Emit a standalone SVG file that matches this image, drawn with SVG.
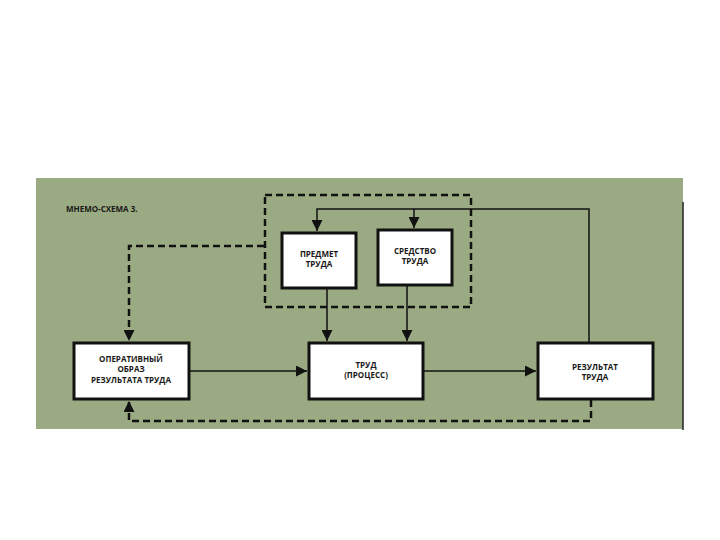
<svg xmlns="http://www.w3.org/2000/svg" width="720" height="540" viewBox="0 0 720 540">
<defs>
<style>
.box{fill:#ffffff;stroke:#111;stroke-width:3}
.lbl{font-family:"Open Sans","DejaVu Sans",sans-serif;font-size:8px;font-weight:bold;fill:#1a1a1a;text-anchor:middle}
.ln{fill:none;stroke:#111;stroke-width:1.5}
.dash{fill:none;stroke:#111;stroke-width:2.5;stroke-dasharray:7 4}
</style>
<marker id="ah" viewBox="0 0 10 10" refX="10" refY="5" markerWidth="6" markerHeight="6" markerUnits="userSpaceOnUse" orient="auto">
<path d="M0,0 L10,5 L0,10 z" fill="#111"/>
</marker>
<marker id="ahb" viewBox="0 0 10 10" refX="10" refY="5" markerWidth="11" markerHeight="11" markerUnits="userSpaceOnUse" orient="auto">
<path d="M0,0 L10,5 L0,10 z" fill="#111"/>
</marker>
</defs>
<rect x="0" y="0" width="720" height="540" fill="#ffffff"/>
<rect x="36" y="178" width="647" height="251" fill="#9aab83"/>
<line x1="683" y1="202" x2="683" y2="430" stroke="#222" stroke-width="1.5"/>
<text x="66" y="212" font-family="'Open Sans','DejaVu Sans',sans-serif" font-size="8" font-weight="bold" fill="#1a1a1a">МНЕМО-СХЕМА 3.</text>
<g id="connectors">
<rect x="265" y="195" width="206" height="112" class="dash"/>
<polyline points="264,246 129,246 129,341" class="dash" marker-end="url(#ahb)"/>
<polyline points="591,400 591,421 129,421 129,401" class="dash" marker-end="url(#ahb)"/>
<polyline points="589,343 589,209 317,209 317,231" class="ln" marker-end="url(#ahb)"/>
<line x1="414" y1="209" x2="414" y2="228" class="ln" marker-end="url(#ahb)"/>
<line x1="327" y1="289" x2="327" y2="341" class="ln" marker-end="url(#ahb)"/>
<line x1="407" y1="286" x2="407" y2="341" class="ln" marker-end="url(#ahb)"/>
<line x1="190" y1="371" x2="307" y2="371" class="ln" marker-end="url(#ahb)"/>
<line x1="424" y1="371" x2="536" y2="371" class="ln" marker-end="url(#ahb)"/>
</g>
<g id="predmet">
<rect x="282" y="233" width="74" height="55" class="box"/>
<text x="319" y="257" class="lbl">ПРЕДМЕТ</text>
<text x="319" y="267" class="lbl">ТРУДА</text>
</g>
<g id="sredstvo">
<rect x="378" y="230" width="74" height="55" class="box"/>
<text x="415" y="254" class="lbl">СРЕДСТВО</text>
<text x="415" y="264" class="lbl">ТРУДА</text>
</g>
<g id="operativny">
<rect x="74" y="343" width="115" height="56" class="box"/>
<text x="131" y="362" class="lbl">ОПЕРАТИВНЫЙ</text>
<text x="131" y="372" class="lbl">ОБРАЗ</text>
<text x="131" y="383" class="lbl">РЕЗУЛЬТАТА ТРУДА</text>
</g>
<g id="trud">
<rect x="309" y="343" width="114" height="56" class="box"/>
<text x="366" y="368" class="lbl">ТРУД</text>
<text x="366" y="378" class="lbl">(ПРОЦЕСС)</text>
</g>
<g id="rezultat">
<rect x="538" y="343" width="115" height="56" class="box"/>
<text x="595" y="370" class="lbl">РЕЗУЛЬТАТ</text>
<text x="595" y="380" class="lbl">ТРУДА</text>
</g>
</svg>
